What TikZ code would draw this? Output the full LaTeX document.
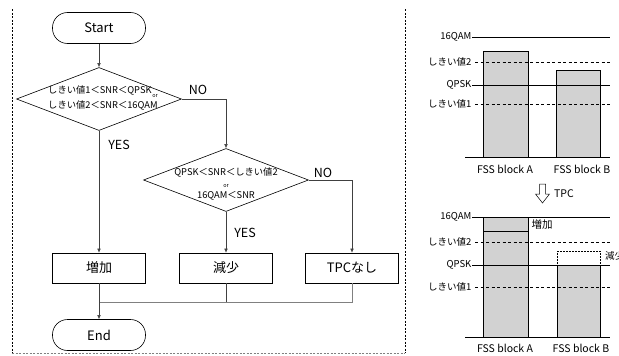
\documentclass[tikz,border=0pt]{standalone}
\usepackage{fontspec}
\setmainfont{Noto Sans CJK JP}
\usetikzlibrary{arrows.meta,positioning,shapes.geometric}

\begin{document}
\begin{tikzpicture}[
  x=1pt, y=-1pt,
  every node/.style={font=\fontsize{10.5}{12}\selectfont, inner sep=1pt},
  term/.style={draw, line width=0.6pt, rounded corners=15pt,
    minimum width=93pt, minimum height=31pt, font=\fontsize{13}{15}\selectfont},
  decision/.style={draw, line width=0.6pt, diamond, minimum width=165pt,
    minimum height=63pt, inner sep=0pt},
  condtext/.style={font=\fontsize{9.3}{15}\selectfont, inner sep=0pt},
  process/.style={draw, line width=0.6pt, minimum width=93pt, minimum height=30pt,
    font=\fontsize{13}{15}\selectfont},
  answer/.style={font=\fontsize{12.5}{14}\selectfont},
  smallor/.style={font=\fontsize{5.5}{6}\selectfont},
  link/.style={line width=0.5pt, black!75},
  arrow/.style={link, -{Latex[length=4pt,width=3.5pt]}},
  level/.style={anchor=east, font=\fontsize{9.5}{11}\selectfont, inner sep=0.5pt},
  solidlevel/.style={line width=1pt},
  dashlevel/.style={line width=0.8pt, dash pattern=on 3pt off 2.5pt},
  bar/.style={draw, fill=gray!35, line width=0.6pt},
  frame/.style={line width=0.5pt, dash pattern=on 2pt off 1.5pt}
]
\useasboundingbox (0,0) rectangle (619,356);

% Panel borders.
\draw[frame] (12,9) -- (12,353);
\draw[frame] (405,9) -- (405,353);
\draw[frame, gray] (12,353) -- (405,353);

% Flow chart.
\node[term] (start) at (99,28) {Start};
\node[decision] (cond1) at (99,99) {};
\node[condtext, align=left, anchor=west] (cond1text) at (48,98)
  {しきい値1＜SNR＜QPSK\\しきい値2＜SNR＜16QAM};
\node[smallor] (or1) at (155,96) {or};
\node[decision] (cond2) at (226,180) {};
\node[condtext, align=center, font=\fontsize{9.3}{11.5}\selectfont] (cond2text) at (226,184)
  {QPSK＜SNR＜しきい値2\\{\fontsize{5.5}{6}\selectfont or}\\16QAM＜SNR};
\node[process] (inc) at (99,268) {増加};
\node[process] (dec) at (226,268) {減少};
\node[process] (none) at (352,268) {TPCなし};
\node[term] (end) at (99,335) {End};
\coordinate (merge) at (99,302);

\node[answer] (no1) at (198,90) {NO};
\node[answer] (yes1) at (119,145) {YES};
\node[answer] (no2) at (323,173) {NO};
\node[answer] (yes2) at (245,233) {YES};

\draw[arrow] (start) -- (cond1);
\draw[arrow] (cond1.east) -| (cond2.north);
\draw[arrow] (cond1.south) -- (inc.north);
\draw[arrow] (cond2.south) -- (dec.north);
\draw[arrow] (cond2.east) -| (none.north);
\draw[link] (dec.south) |- (merge);
\draw[link, gray] (none.south) |- (merge);
\draw[arrow] (inc.south) -- (end.north);

% Levels before TPC.
\draw[bar] (483,51) rectangle (528,157);
\draw[bar] (556,70) rectangle (600,157);
\node (blockA1) at (505,169) {FSS block A};
\node (blockB1) at (582,169) {FSS block B};

% TPC step.
\draw[line width=0.5pt, fill=white] (539.5,184) -- (545.5,184) -- (545.5,194) -- (549.5,194)
  -- (542.5,203) -- (535.5,194) -- (539.5,194) -- cycle;
\node[anchor=west, font=\fontsize{10.5}{12}\selectfont] (tpc) at (553,194) {TPC};

% Levels after TPC.
\draw[bar] (483,217) rectangle (528,337);
\draw[line width=0.6pt] (483,231) -- (528,231);
\draw[line width=0.5pt, densely dotted, fill=white] (557,251) rectangle (600,265);
\draw[bar] (557,265) rectangle (600,337);
\node (incnote) at (542,225) {増加};
\node[anchor=west, font=\fontsize{9.5}{11}\selectfont] (decnote) at (604,256) {減少};
\node (blockA2) at (505,348) {FSS block A};
\node (blockB2) at (581,348) {FSS block B};

\foreach \base/\low in {157/53,337/50}{
  \draw[line width=0.8pt] (465,\base) -- (610,\base);
  \node[level] at (472,{\base-120}) {16QAM};
  \node[level] at (472,{\base-95}) {しきい値2};
  \node[level] at (472,{\base-72}) {QPSK};
  \node[level] at (472,{\base-\low}) {しきい値1};
  \draw[solidlevel] (472,{\base-120}) -- (610,{\base-120});
  \draw[dashlevel] (475,{\base-95}) -- (610,{\base-95});
  \draw[solidlevel] (472,{\base-72}) -- (610,{\base-72});
  \draw[dashlevel] (475,{\base-\low}) -- (610,{\base-\low});
}
\end{tikzpicture}
\end{document}
